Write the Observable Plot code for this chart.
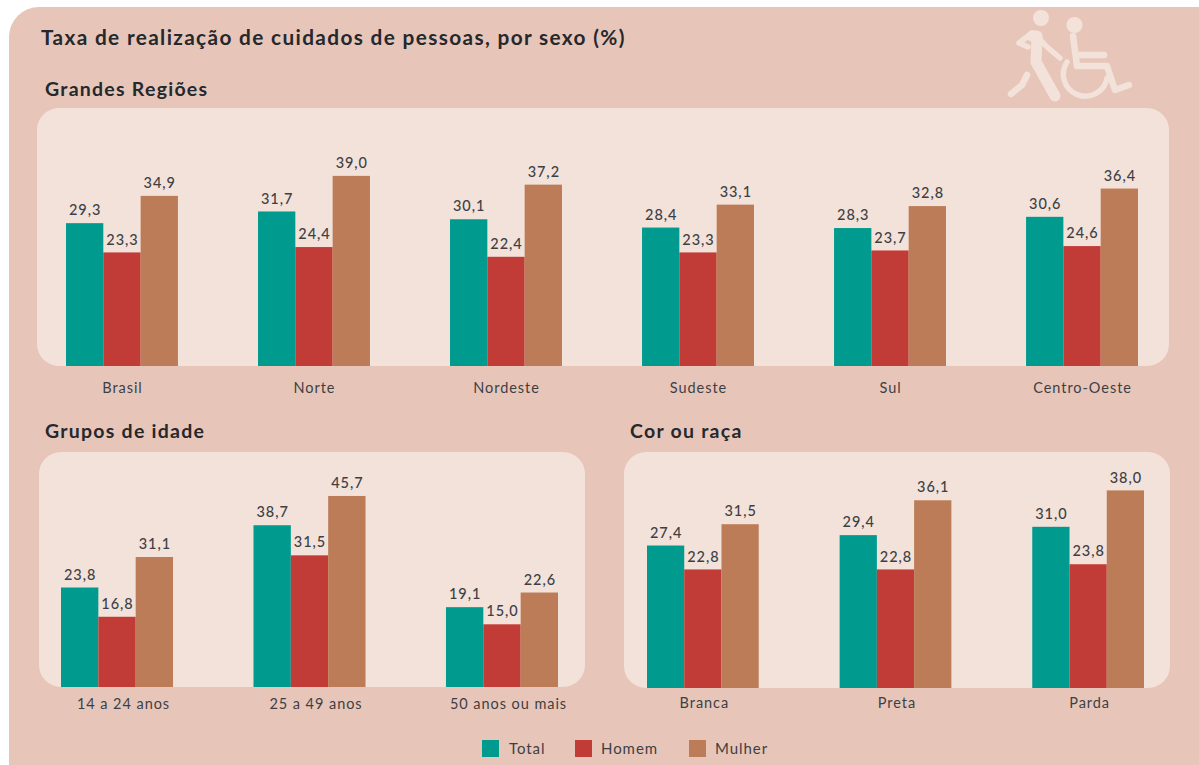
<!DOCTYPE html>
<html lang="pt">
<head>
<meta charset="utf-8">
<script src="https://cdn.jsdelivr.net/npm/d3@7"></script>
<script src="https://cdn.jsdelivr.net/npm/@observablehq/plot@0.6"></script>
<style>
html,body{margin:0;padding:0;background:#fff;width:1199px;height:765px;overflow:hidden;font-family:Lato,sans-serif}
.abs{position:absolute}
#bg{left:9px;top:7px;width:1230px;height:800px;background:#e7c6b9;border-radius:30px}
.panel{background:#f3e2da;border-radius:22px}
.h{color:#25282d;font-weight:700;white-space:nowrap;line-height:1;letter-spacing:1.25px}
.lg{color:#3d3f45;font-size:15px;letter-spacing:.95px;line-height:1;white-space:nowrap}
.sw{width:17px;height:17px}
#c1 text,#c2 text,#c3 text{letter-spacing:.95px}
</style>
</head>
<body>
<div id="bg" class="abs"></div>
<div class="abs panel" style="left:37px;top:108px;width:1132px;height:258px"></div>
<div class="abs panel" style="left:39px;top:452px;width:546px;height:235px"></div>
<div class="abs panel" style="left:624px;top:452px;width:546px;height:236px"></div>
<div class="abs h" style="left:41px;top:27px;font-size:20.8px;letter-spacing:1.35px">Taxa de realização de cuidados de pessoas, por sexo (%)</div>
<div class="abs h" style="left:45px;top:79px;font-size:19.5px">Grandes Regiões</div>
<div class="abs h" style="left:45px;top:421px;font-size:19.5px">Grupos de idade</div>
<div class="abs h" style="left:630px;top:421px;font-size:19.5px">Cor ou raça</div>
<svg class="abs" style="left:1000px;top:0" width="140" height="106" viewBox="0 0 140 106" fill="none" stroke="#f3e2da" stroke-linecap="round" stroke-linejoin="round">
  <circle cx="41" cy="18" r="8" fill="#f3e2da" stroke="none"/>
  <circle cx="74.500" cy="25" r="8" fill="#f3e2da" stroke="none"/>
  <path d="M32 33 L19 43 L28 47" stroke-width="5.500"/>
  <path d="M38 37 L46 46 L60 58" stroke-width="5.500"/>
  <path d="M32 36 L37 36 L36 62 L55 96" stroke-width="11"/>
  <path d="M27 75 L22 85 L11 94" stroke-width="6.500"/>
  <path d="M73 36 L77 66 L107 66 L115 90 L129 85" stroke-width="6.500"/>
  <path d="M78 55 L104 55" stroke-width="6.500"/>
  <path d="M67 62 A22 22 0 1 0 107 78" stroke-width="5.500"/>
</svg>
<div id="c1" class="abs" style="left:37px;top:108px"></div>
<div id="c2" class="abs" style="left:39px;top:452px"></div>
<div id="c3" class="abs" style="left:624px;top:452px"></div>
<div id="legend"></div>
<script>
const series = ["Total", "Homem", "Mulher"];
const colors = ["#009b8e", "#c13c37", "#bb7c57"];

const regions = ["Brasil", "Norte", "Nordeste", "Sudeste", "Sul", "Centro-Oeste"];
const regionTotal = [29.3, 31.7, 30.1, 28.4, 28.3, 30.6];
const regionMen = [23.3, 24.4, 22.4, 23.3, 23.7, 24.6];
const regionWomen = [34.9, 39.0, 37.2, 33.1, 32.8, 36.4];

const ages = ["14 a 24 anos", "25 a 49 anos", "50 anos ou mais"];
const ageTotal = [23.8, 38.7, 19.1];
const ageMen = [16.8, 31.5, 15.0];
const ageWomen = [31.1, 45.7, 22.6];

const races = ["Branca", "Preta", "Parda"];
const raceTotal = [27.4, 29.4, 31.0];
const raceMen = [22.8, 22.8, 23.8];
const raceWomen = [31.5, 36.1, 38.0];

const fmt = v => v.toFixed(1).replace(".", ",");

function rows(cats, total, men, women) {
  return cats.flatMap((c, i) => [total[i], men[i], women[i]].map((v, j) => ({cat: c, serie: series[j], value: v})));
}

function chart(id, o) {
  const data = rows(o.cats, o.total, o.men, o.women);
  const plot = Plot.plot({
    width: o.width,
    height: o.inner + 34,
    marginTop: 0,
    marginBottom: 34,
    marginLeft: o.left,
    marginRight: o.right,
    style: {background: "transparent", fontFamily: "Lato, sans-serif"},
    fx: {domain: o.cats, paddingInner: o.pad, paddingOuter: 0, round: false, label: null},
    x: {domain: series, padding: 0, round: false, axis: null, label: null},
    y: {domain: [0, o.inner / o.k], axis: null, label: null},
    color: {domain: series, range: colors},
    marks: [
      Plot.barY(data, {fx: "cat", x: "serie", y: "value", fill: "serie"}),
      Plot.text(data, {fx: "cat", x: "serie", y: "value", text: d => fmt(d.value), dy: -13, fontSize: 14.5, fontWeight: 500, fill: "#3d3f45"}),
      Plot.axisFx({anchor: "bottom", tickSize: 0, tickPadding: o.tp, dx: o.dx, fontSize: 14.5, fill: "#3d3f45", label: null})
    ]
  });
  document.getElementById(id).append(plot);
}

chart("c1", {cats: regions, total: regionTotal, men: regionMen, women: regionWomen, width: 1132, inner: 258, k: 4.875, left: 29, right: 31, pad: 0.417, tp: 16, dx: 0});
chart("c2", {cats: ages, total: ageTotal, men: ageMen, women: ageWomen, width: 546, inner: 235, k: 4.18, left: 22, right: 27, pad: 0.418, tp: 11, dx: 6});
chart("c3", {cats: races, total: raceTotal, men: raceMen, women: raceWomen, width: 546, inner: 236, k: 5.2, left: 23, right: 26, pad: 0.42, tp: 9, dx: 1});

const lgX = [482, 575, 689];
const lgT = [509, 601, 715];
const lgY = [740, 740, 740];
const legend = document.getElementById("legend");
series.forEach((s, i) => {
  legend.insertAdjacentHTML("beforeend",
    `<div class="abs sw" style="left:${lgX[i]}px;top:${lgY[i]}px;background:${colors[i]}"></div>` +
    `<div class="abs lg" style="left:${lgT[i]}px;top:${lgY[i] + 1}px">${s}</div>`);
});
</script>
</body>
</html>
